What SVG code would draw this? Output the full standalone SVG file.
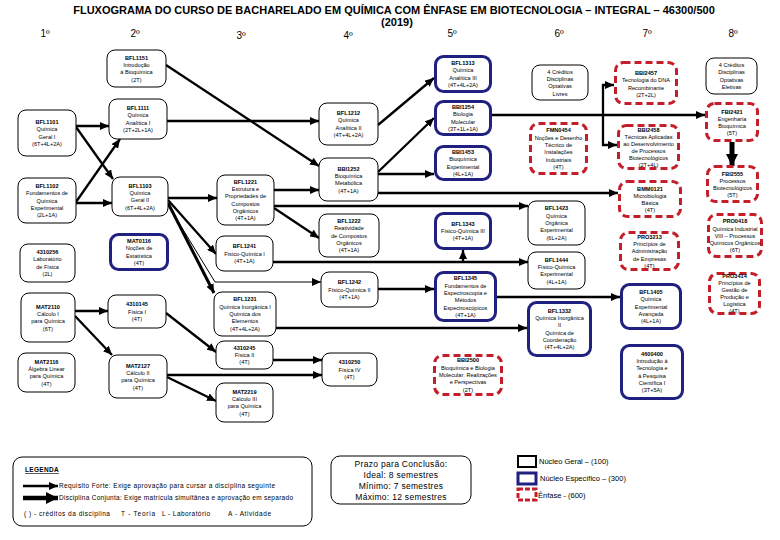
<svg xmlns="http://www.w3.org/2000/svg" width="780" height="540" viewBox="0 0 780 540">
<style>
.bg{fill:#fff}
.nb{fill:#fff;stroke:#000;stroke-width:1}
.nu{fill:#fff;stroke:#1f2080;stroke-width:3}
.nr{fill:#fff;stroke:#c41e2a;stroke-width:3;stroke-dasharray:7 4}
.t{font-family:"Liberation Sans",Arial,sans-serif;font-size:5.6px;fill:#000;text-anchor:middle}
.c{fill:none;stroke:#000;stroke-width:2.3}
.thin{fill:none;stroke:#000;stroke-width:1}
.hd{font-family:"Liberation Sans",Arial,sans-serif;font-size:10px;fill:#000;text-anchor:middle}
.ttl{font-family:"Liberation Sans",Arial,sans-serif;font-size:11px;font-weight:bold;fill:#000;text-anchor:middle}
.lg{font-family:"Liberation Sans",Arial,sans-serif;font-size:6.5px;fill:#000}
.pz{font-family:"Liberation Sans",Arial,sans-serif;font-size:8.5px;letter-spacing:0.3px;fill:#000;text-anchor:middle}
.ky{font-family:"Liberation Sans",Arial,sans-serif;font-size:7.5px;fill:#000}
</style>
<defs>
<marker id="a" markerUnits="userSpaceOnUse" markerWidth="9" markerHeight="8" refX="9" refY="4" orient="auto"><path d="M0,0 L9,4 L0,8 z" fill="#000"/></marker>
<marker id="ab" markerUnits="userSpaceOnUse" markerWidth="12" markerHeight="12" refX="12" refY="6" orient="auto"><path d="M0,0 L12,6 L0,12 z" fill="#000"/></marker>
</defs>
<rect class="bg" x="0" y="0" width="780" height="540"/>
<g id="title">
<text class="ttl" x="394" y="14">FLUXOGRAMA DO CURSO DE BACHARELADO EM QUÍMICA COM ÊNFASE EM BIOTECNOLOGIA – INTEGRAL – 46300/500</text>
<text class="ttl" x="397" y="26">(2019)</text>
</g>
<g id="headers">
<text class="hd" x="45" y="37">1º</text>
<text class="hd" x="135" y="37">2º</text>
<text class="hd" x="241" y="39">3º</text>
<text class="hd" x="348" y="39">4º</text>
<text class="hd" x="452" y="37">5º</text>
<text class="hd" x="559" y="37">6º</text>
<text class="hd" x="647" y="37">7º</text>
<text class="hd" x="733" y="37">8º</text>
</g>
<g id="connectors">
<path class="c" d="M76,126 L109,126" marker-end="url(#a)"/>
<path class="c" d="M76,127 L113,179" marker-end="url(#a)"/>
<path class="c" d="M76,202 L120,139" marker-end="url(#a)"/>
<path class="c" d="M76,203 L112,203" marker-end="url(#a)"/>
<path class="c" d="M166,65 L319,166" marker-end="url(#a)"/>
<path class="c" d="M167,121 L319,121" marker-end="url(#a)"/>
<path class="c" d="M378,125 L434,78" marker-end="url(#a)"/>
<path class="c" d="M378,172 L434,118" marker-end="url(#a)"/>
<path class="c" d="M378,174 L434,174" marker-end="url(#a)"/>
<path class="c" d="M492,115 L705,115" marker-end="url(#a)"/>
<path class="c" d="M603,115 L603,85 L614,85" marker-end="url(#a)"/>
<path class="c" d="M603,115 L603,145 L617,145" marker-end="url(#a)"/>
<path fill="none" stroke="#000" stroke-width="5" d="M732,142 L732,166" marker-end="url(#ab)"/>
<path class="c" d="M168,198 L217,198" marker-end="url(#a)"/>
<path class="c" d="M168,200 L216,254" marker-end="url(#a)"/>
<path fill="none" stroke="#000" stroke-width="3" d="M168,203 L214,293" marker-end="url(#a)"/>
<path class="thin" d="M168,205 L215,282 L321,282" marker-end="url(#a)"/>
<path class="c" d="M274,190 L319,190" marker-end="url(#a)"/>
<path class="c" d="M274,208 L319,238" marker-end="url(#a)"/>
<path class="c" d="M274,206 L528,206" marker-end="url(#a)"/>
<path class="c" d="M378,193 L618,193" marker-end="url(#a)"/>
<path class="c" d="M273,262 L528,262" marker-end="url(#a)"/>
<path class="c" d="M463,262 L463,250" marker-end="url(#a)"/>
<path class="c" d="M378,289 L434,289" marker-end="url(#a)"/>
<path class="c" d="M497,297 L620,297" marker-end="url(#a)"/>
<path class="c" d="M276,328 L527,328" marker-end="url(#a)"/>
<path class="c" d="M75,311 L108,311" marker-end="url(#a)"/>
<path class="c" d="M75,316 L112,355" marker-end="url(#a)"/>
<path class="c" d="M166,313 L216,352" marker-end="url(#a)"/>
<path class="c" d="M273,360 L322,360" marker-end="url(#a)"/>
<path class="c" d="M167,375 L322,375" marker-end="url(#a)"/>
<path class="c" d="M167,377 L216,401" marker-end="url(#a)"/>
</g>
<g id="BFL1151"><rect class="nb" x="107" y="50" width="59" height="37" rx="8"/><text class="t" x="136.5" y="59.6"><tspan x="136.5" font-weight="bold">BFL1151</tspan><tspan x="136.5" dy="7.3">Introdução</tspan><tspan x="136.5" dy="7.3">à Bioquímica</tspan><tspan x="136.5" dy="7.3">(2T)</tspan></text></g>
<g id="BFL1101"><rect class="nb" x="18" y="110" width="58" height="46" rx="8"/><text class="t" x="47" y="124.1"><tspan x="47" font-weight="bold">BFL1101</tspan><tspan x="47" dy="7.3">Química</tspan><tspan x="47" dy="7.3">Geral I</tspan><tspan x="47" dy="7.3">(6T+4L+2A)</tspan></text></g>
<g id="BFL1111"><rect class="nb" x="109" y="99" width="58" height="40" rx="8"/><text class="t" x="138" y="110.1"><tspan x="138" font-weight="bold">BFL1111</tspan><tspan x="138" dy="7.3">Química</tspan><tspan x="138" dy="7.3">Analítica I</tspan><tspan x="138" dy="7.3">(2T+2L+1A)</tspan></text></g>
<g id="BFL1102"><rect class="nb" x="18" y="178" width="58" height="45" rx="8"/><text class="t" x="47" y="187.9"><tspan x="47" font-weight="bold">BFL1102</tspan><tspan x="47" dy="7.3">Fundamentos de</tspan><tspan x="47" dy="7.3">Química</tspan><tspan x="47" dy="7.3">Experimental</tspan><tspan x="47" dy="7.3">(2L+1A)</tspan></text></g>
<g id="BFL1103"><rect class="nb" x="112" y="177" width="56" height="39" rx="8"/><text class="t" x="140" y="187.6"><tspan x="140" font-weight="bold">BFL1103</tspan><tspan x="140" dy="7.3">Química</tspan><tspan x="140" dy="7.3">Geral II</tspan><tspan x="140" dy="7.3">(6T+4L+2A)</tspan></text></g>
<g id="N4310256"><rect class="nb" x="20" y="244" width="55" height="38" rx="8"/><text class="t" x="47.5" y="254.1"><tspan x="47.5" font-weight="bold">4310256</tspan><tspan x="47.5" dy="7.3">Laboratório</tspan><tspan x="47.5" dy="7.3">de Física</tspan><tspan x="47.5" dy="7.3">(2L)</tspan></text></g>
<g id="MAT0116"><rect class="nu" x="110.5" y="234.5" width="57" height="35" rx="8"/><text class="t" x="139" y="243.1"><tspan x="139" font-weight="bold">MAT0116</tspan><tspan x="139" dy="7.3">Noções de</tspan><tspan x="139" dy="7.3">Estatística</tspan><tspan x="139" dy="7.3">(4T)</tspan></text></g>
<g id="MAT2110"><rect class="nb" x="21" y="293" width="54" height="49" rx="8"/><text class="t" x="48" y="308.6"><tspan x="48" font-weight="bold">MAT2110</tspan><tspan x="48" dy="7.3">Cálculo I</tspan><tspan x="48" dy="7.3">para Química</tspan><tspan x="48" dy="7.3">(6T)</tspan></text></g>
<g id="N4310145"><rect class="nb" x="108" y="295" width="58" height="33" rx="8"/><text class="t" x="137" y="306.2"><tspan x="137" font-weight="bold">4310145</tspan><tspan x="137" dy="7.3">Física I</tspan><tspan x="137" dy="7.3">(4T)</tspan></text></g>
<g id="MAT2116"><rect class="nb" x="18" y="353" width="57" height="39" rx="8"/><text class="t" x="46.5" y="363.6"><tspan x="46.5" font-weight="bold">MAT2116</tspan><tspan x="46.5" dy="7.3">Álgebra Linear</tspan><tspan x="46.5" dy="7.3">para Química</tspan><tspan x="46.5" dy="7.3">(4T)</tspan></text></g>
<g id="MAT2127"><rect class="nb" x="109" y="355" width="58" height="43" rx="8"/><text class="t" x="138" y="367.6"><tspan x="138" font-weight="bold">MAT2127</tspan><tspan x="138" dy="7.3">Cálculo II</tspan><tspan x="138" dy="7.3">para Química</tspan><tspan x="138" dy="7.3">(4T)</tspan></text></g>
<g id="BFL1221"><rect class="nb" x="217" y="175" width="57" height="50" rx="8"/><text class="t" x="245.5" y="183.8"><tspan x="245.5" font-weight="bold">BFL1221</tspan><tspan x="245.5" dy="7.3">Estrutura e</tspan><tspan x="245.5" dy="7.3">Propriedades de</tspan><tspan x="245.5" dy="7.3">Compostos</tspan><tspan x="245.5" dy="7.3">Orgânicos</tspan><tspan x="245.5" dy="7.3">(4T+1A)</tspan></text></g>
<g id="BFL1241"><rect class="nb" x="216" y="236" width="57" height="35" rx="8"/><text class="t" x="244.5" y="248.2"><tspan x="244.5" font-weight="bold">BFL1241</tspan><tspan x="244.5" dy="7.3">Físico-Química I</tspan><tspan x="244.5" dy="7.3">(4T+1A)</tspan></text></g>
<g id="BFL1231"><rect class="nb" x="214" y="292" width="62" height="44" rx="8"/><text class="t" x="245" y="301.4"><tspan x="245" font-weight="bold">BFL1231</tspan><tspan x="245" dy="7.3">Química Inorgânica I</tspan><tspan x="245" dy="7.3">Química dos</tspan><tspan x="245" dy="7.3">Elementos</tspan><tspan x="245" dy="7.3">(4T+4L+2A)</tspan></text></g>
<g id="N4310245"><rect class="nb" x="216" y="341" width="57" height="28" rx="8"/><text class="t" x="244.5" y="349.7"><tspan x="244.5" font-weight="bold">4310245</tspan><tspan x="244.5" dy="7.3">Física II</tspan><tspan x="244.5" dy="7.3">(4T)</tspan></text></g>
<g id="MAT2219"><rect class="nb" x="216" y="383" width="57" height="39" rx="8"/><text class="t" x="244.5" y="393.6"><tspan x="244.5" font-weight="bold">MAT2219</tspan><tspan x="244.5" dy="7.3">Cálculo III</tspan><tspan x="244.5" dy="7.3">para Química</tspan><tspan x="244.5" dy="7.3">(4T)</tspan></text></g>
<g id="BFL1212"><rect class="nb" x="319" y="103" width="59" height="42" rx="8"/><text class="t" x="348.5" y="115.1"><tspan x="348.5" font-weight="bold">BFL1212</tspan><tspan x="348.5" dy="7.3">Química</tspan><tspan x="348.5" dy="7.3">Analítica II</tspan><tspan x="348.5" dy="7.3">(4T+4L+2A)</tspan></text></g>
<g id="BBI1252"><rect class="nb" x="319" y="158" width="59" height="43" rx="8"/><text class="t" x="348.5" y="170.6"><tspan x="348.5" font-weight="bold">BBI1252</tspan><tspan x="348.5" dy="7.3">Bioquímica</tspan><tspan x="348.5" dy="7.3">Metabólica</tspan><tspan x="348.5" dy="7.3">(4T+1A)</tspan></text></g>
<g id="BFL1222"><rect class="nb" x="319" y="214" width="60" height="43" rx="8"/><text class="t" x="349" y="222.9"><tspan x="349" font-weight="bold">BFL1222</tspan><tspan x="349" dy="7.3">Reatividade</tspan><tspan x="349" dy="7.3">de Compostos</tspan><tspan x="349" dy="7.3">Orgânicos</tspan><tspan x="349" dy="7.3">(4T+1A)</tspan></text></g>
<g id="BFL1242"><rect class="nb" x="321" y="272" width="57" height="35" rx="8"/><text class="t" x="349.5" y="284.2"><tspan x="349.5" font-weight="bold">BFL1242</tspan><tspan x="349.5" dy="7.3">Físico-Química II</tspan><tspan x="349.5" dy="7.3">(4T+1A)</tspan></text></g>
<g id="N4310250"><rect class="nb" x="322" y="353" width="55" height="33" rx="8"/><text class="t" x="349.5" y="364.2"><tspan x="349.5" font-weight="bold">4310250</tspan><tspan x="349.5" dy="7.3">Física IV</tspan><tspan x="349.5" dy="7.3">(4T)</tspan></text></g>
<g id="BFL1313"><rect class="nu" x="435.5" y="56.5" width="55" height="35" rx="8"/><text class="t" x="463" y="65.1"><tspan x="463" font-weight="bold">BFL1313</tspan><tspan x="463" dy="7.3">Química</tspan><tspan x="463" dy="7.3">Analítica III</tspan><tspan x="463" dy="7.3">(4T+4L+2A)</tspan></text></g>
<g id="BBI1254"><rect class="nu" x="435.5" y="101.5" width="55" height="33" rx="8"/><text class="t" x="463" y="109.1"><tspan x="463" font-weight="bold">BBI1254</tspan><tspan x="463" dy="7.3">Biologia</tspan><tspan x="463" dy="7.3">Molecular</tspan><tspan x="463" dy="7.3">(3T+1L+1A)</tspan></text></g>
<g id="BBI1453"><rect class="nu" x="435.5" y="146.5" width="55" height="33" rx="8"/><text class="t" x="463" y="154.1"><tspan x="463" font-weight="bold">BBI1453</tspan><tspan x="463" dy="7.3">Bioquímica</tspan><tspan x="463" dy="7.3">Experimental</tspan><tspan x="463" dy="7.3">(4L+1A)</tspan></text></g>
<g id="BFL1343"><rect class="nu" x="435.5" y="213.5" width="55" height="35" rx="8"/><text class="t" x="463" y="225.7"><tspan x="463" font-weight="bold">BFL1343</tspan><tspan x="463" dy="7.3">Físico-Química III</tspan><tspan x="463" dy="7.3">(4T+1A)</tspan></text></g>
<g id="BFL1345"><rect class="nu" x="435.5" y="272.5" width="60" height="48" rx="8"/><text class="t" x="465.5" y="280.3"><tspan x="465.5" font-weight="bold">BFL1345</tspan><tspan x="465.5" dy="7.3">Fundamentos de</tspan><tspan x="465.5" dy="7.3">Espectroscopia e</tspan><tspan x="465.5" dy="7.3">Métodos</tspan><tspan x="465.5" dy="7.3">Espectroscópicos</tspan><tspan x="465.5" dy="7.3">(4T+1A)</tspan></text></g>
<g id="BBI2500"><rect class="nr" x="434.5" y="355.5" width="67" height="39" rx="8"/><text class="t" x="468" y="362.4"><tspan x="468" font-weight="bold">BBI2500</tspan><tspan x="468" dy="7.3">Bioquímica e Biologia</tspan><tspan x="468" dy="7.3">Molecular: Realizações</tspan><tspan x="468" dy="7.3">e Perspectivas</tspan><tspan x="468" dy="7.3">(2T)</tspan></text></g>
<g id="OptLivres"><rect class="nb" x="532" y="65" width="56" height="35" rx="8"/><text class="t" x="560" y="73.6"><tspan x="560">4 Créditos</tspan><tspan x="560" dy="7.3">Disciplinas</tspan><tspan x="560" dy="7.3">Optativas</tspan><tspan x="560" dy="7.3">Livres</tspan></text></g>
<g id="FMN0454"><rect class="nr" x="530.5" y="123.5" width="56" height="50" rx="8"/><text class="t" x="558.5" y="132.3"><tspan x="558.5" font-weight="bold">FMN0454</tspan><tspan x="558.5" dy="7.3">Noções e Desenho</tspan><tspan x="558.5" dy="7.3">Técnico de</tspan><tspan x="558.5" dy="7.3">Instalações</tspan><tspan x="558.5" dy="7.3">Industriais</tspan><tspan x="558.5" dy="7.3">(4T)</tspan></text></g>
<g id="BFL1423"><rect class="nb" x="528" y="201" width="57" height="44" rx="8"/><text class="t" x="556.5" y="210.4"><tspan x="556.5" font-weight="bold">BFL1423</tspan><tspan x="556.5" dy="7.3">Química</tspan><tspan x="556.5" dy="7.3">Orgânica</tspan><tspan x="556.5" dy="7.3">Experimental</tspan><tspan x="556.5" dy="7.3">(6L+2A)</tspan></text></g>
<g id="BFL1444"><rect class="nb" x="528" y="252" width="57" height="37" rx="8"/><text class="t" x="556.5" y="261.6"><tspan x="556.5" font-weight="bold">BFL1444</tspan><tspan x="556.5" dy="7.3">Físico-Química</tspan><tspan x="556.5" dy="7.3">Experimental</tspan><tspan x="556.5" dy="7.3">(4L+1A)</tspan></text></g>
<g id="BFL1332"><rect class="nu" x="528.5" y="302.5" width="62" height="53" rx="8"/><text class="t" x="559.5" y="312.8"><tspan x="559.5" font-weight="bold">BFL1332</tspan><tspan x="559.5" dy="7.3">Química Inorgânica</tspan><tspan x="559.5" dy="7.3">II</tspan><tspan x="559.5" dy="7.3">Química de</tspan><tspan x="559.5" dy="7.3">Coordenação</tspan><tspan x="559.5" dy="7.3">(4T+4L+2A)</tspan></text></g>
<g id="BBI2457"><rect class="nr" x="615.5" y="62.5" width="61" height="41" rx="8"/><text class="t" x="646" y="75"><tspan x="646" font-weight="bold">BBI2457</tspan><tspan x="646" dy="7.3">Tecnologia do DNA</tspan><tspan x="646" dy="7.3">Recombinante</tspan><tspan x="646" dy="7.3">(2T+2L)</tspan></text></g>
<g id="BBI2458"><rect class="nr" x="618.5" y="125.5" width="60" height="43" rx="8"/><text class="t" x="648.5" y="131.5"><tspan x="648.5" font-weight="bold">BBI2458</tspan><tspan x="648.5" dy="7.1">Técnicas Aplicadas</tspan><tspan x="648.5" dy="7.1">ao Desenvolvimento</tspan><tspan x="648.5" dy="7.1">de Processos</tspan><tspan x="648.5" dy="7.1">Biotecnológicos</tspan><tspan x="648.5" dy="7.1">(2T+4L)</tspan></text></g>
<g id="BMM0121"><rect class="nr" x="619.5" y="181.5" width="61" height="35" rx="8"/><text class="t" x="650" y="190.6"><tspan x="650" font-weight="bold">BMM0121</tspan><tspan x="650" dy="7.1">Microbiologia</tspan><tspan x="650" dy="7.1">Básica</tspan><tspan x="650" dy="7.1">(4T)</tspan></text></g>
<g id="PRO3213"><rect class="nr" x="620.5" y="232.5" width="58" height="37" rx="8"/><text class="t" x="649.5" y="239.2"><tspan x="649.5" font-weight="bold">PRO3213</tspan><tspan x="649.5" dy="7.1">Princípios de</tspan><tspan x="649.5" dy="7.1">Administração</tspan><tspan x="649.5" dy="7.1">de Empresas</tspan><tspan x="649.5" dy="7.1">(4T)</tspan></text></g>
<g id="BFL1405"><rect class="nu" x="621.5" y="284.5" width="59" height="44" rx="8"/><text class="t" x="651" y="293.9"><tspan x="651" font-weight="bold">BFL1405</tspan><tspan x="651" dy="7.3">Química</tspan><tspan x="651" dy="7.3">Experimental</tspan><tspan x="651" dy="7.3">Avançada</tspan><tspan x="651" dy="7.3">(4L+1A)</tspan></text></g>
<g id="N4600400"><rect class="nu" x="621.5" y="345.5" width="61" height="53" rx="8"/><text class="t" x="652" y="355.8"><tspan x="652" font-weight="bold">4600400</tspan><tspan x="652" dy="7.3">Introdução à</tspan><tspan x="652" dy="7.3">Tecnologia e</tspan><tspan x="652" dy="7.3">à Pesquisa</tspan><tspan x="652" dy="7.3">Científica I</tspan><tspan x="652" dy="7.3">(3T+5A)</tspan></text></g>
<g id="OptEletivas"><rect class="nb" x="706" y="58" width="51" height="36" rx="8"/><text class="t" x="731.5" y="67.1"><tspan x="731.5">4 Créditos</tspan><tspan x="731.5" dy="7.3">Disciplinas</tspan><tspan x="731.5" dy="7.3">Optativas</tspan><tspan x="731.5" dy="7.3">Eletivas</tspan></text></g>
<g id="FBI2421"><rect class="nr" x="706.5" y="103.5" width="51" height="37" rx="8"/><text class="t" x="732" y="113.6"><tspan x="732" font-weight="bold">FBI2421</tspan><tspan x="732" dy="7.1">Engenharia</tspan><tspan x="732" dy="7.1">Bioquímica</tspan><tspan x="732" dy="7.1">(5T)</tspan></text></g>
<g id="FBI2555"><rect class="nr" x="707.5" y="166.5" width="50" height="35" rx="8"/><text class="t" x="732.5" y="175.6"><tspan x="732.5" font-weight="bold">FBI2555</tspan><tspan x="732.5" dy="7.1">Processos</tspan><tspan x="732.5" dy="7.1">Biotecnológicos</tspan><tspan x="732.5" dy="7.1">(5T)</tspan></text></g>
<g id="PRO0418"><rect class="nr" x="708.5" y="214.5" width="53" height="42" rx="8"/><text class="t" x="735" y="223.4"><tspan x="735" font-weight="bold">PRO0418</tspan><tspan x="735" dy="7.1">Química Industrial</tspan><tspan x="735" dy="7.1">VIII – Processos</tspan><tspan x="735" dy="7.1">Químicos Orgânicos</tspan><tspan x="735" dy="7.1">(6T)</tspan></text></g>
<g id="PRO3414"><rect class="nr" x="709.5" y="273.5" width="50" height="40" rx="8"/><text class="t" x="734.5" y="278"><tspan x="734.5" font-weight="bold">PRO3414</tspan><tspan x="734.5" dy="7">Princípios de</tspan><tspan x="734.5" dy="7">Gestão de</tspan><tspan x="734.5" dy="7">Produção e</tspan><tspan x="734.5" dy="7">Logística</tspan><tspan x="734.5" dy="7">(4T)</tspan></text></g>
<g id="legend">
<rect class="nb" x="13" y="457" width="299" height="69" rx="9"/>
<text class="lg" x="25" y="472" font-weight="bold" letter-spacing="0.3" text-decoration="underline">LEGENDA</text>
<path class="c" d="M23,486 L58,486" marker-end="url(#a)"/>
<text class="lg" x="59" y="488" textLength="216" lengthAdjust="spacing">Requisito Forte: Exige aprovação para cursar a disciplina seguinte</text>
<path fill="none" stroke="#000" stroke-width="4.5" d="M23,498 L58,498" marker-end="url(#ab)"/>
<text class="lg" x="59" y="500" textLength="234" lengthAdjust="spacing">Disciplina Conjunta: Exige matrícula simultânea e aprovação em separado</text>
<text class="lg" x="24" y="516" textLength="86" lengthAdjust="spacing">(  ) - créditos da disciplina</text>
<text class="lg" x="121" y="516" textLength="34" lengthAdjust="spacing">T - Teoria</text>
<text class="lg" x="162" y="516" textLength="48" lengthAdjust="spacing">L - Laboratório</text>
<text class="lg" x="228" y="516" textLength="43" lengthAdjust="spacing">A - Atividade</text>
</g>
<g id="prazo">
<rect class="nb" x="331" y="456" width="140" height="48" rx="9"/>
<text class="pz" x="401" y="467">Prazo para Conclusão:</text>
<text class="pz" x="401" y="478">Ideal: 8 semestres</text>
<text class="pz" x="401" y="489">Mínimo: 7 semestres</text>
<text class="pz" x="401" y="500">Máximo: 12 semestres</text>
</g>
<g id="key">
<rect fill="#fff" stroke="#000" stroke-width="2" x="518" y="456" width="18" height="11"/>
<text class="ky" x="539" y="464">Núcleo Geral – (100)</text>
<rect fill="#fff" stroke="#1f2080" stroke-width="3" x="518" y="473" width="18" height="11"/>
<text class="ky" x="540" y="481">Núcleo Específico – (300)</text>
<rect fill="#fff" stroke="#c41e2a" stroke-width="3" stroke-dasharray="5 2" x="518" y="489" width="18" height="11"/>
<text class="ky" x="538" y="498">Ênfase - (600)</text>
</g>
</svg>
